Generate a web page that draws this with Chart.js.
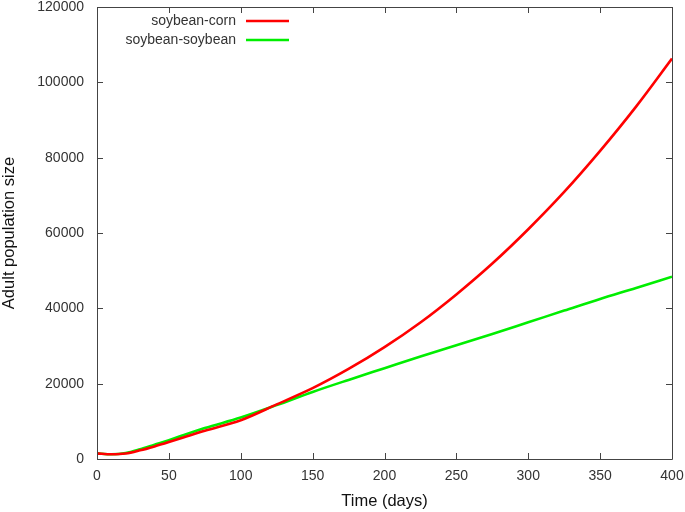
<!DOCTYPE html>
<html>
<head>
<meta charset="utf-8">
<script src="https://cdn.jsdelivr.net/npm/chart.js@4"></script>
<style>
  html, body { margin: 0; padding: 0; background: #fff; }
  #wrap { width: 685px; height: 512px; }
</style>
</head>
<body>
<div id="wrap"><canvas id="c" width="685" height="512"></canvas></div>
<script>
const days = [0, 10, 20, 30, 40, 50, 60, 75, 100, 125, 150, 175, 200, 225, 250, 275, 300, 325, 350, 375, 400];
const soybeanCorn = [1500, 1250, 1450, 2300, 3350, 4500, 5700, 7500, 10300, 14500, 18800, 23900, 29700, 36250, 43700, 51900, 61000, 70900, 81800, 93550, 106300];
const soybeanSoybean = [1500, 1250, 1600, 2600, 3800, 5000, 6300, 8200, 11000, 14300, 17800, 21000, 24100, 27200, 30200, 33200, 36300, 39400, 42500, 45400, 48400];
const seriesNames = ["soybean-corn", "soybean-soybean"];
const xTitle = "Time (days)";
const yTitle = "Adult population size";

const toPoints = (ys) => days.map((d, i) => ({ x: d, y: ys[i] }));
const FONT = '"Liberation Sans", Arial, sans-serif';

const frame = {
  id: 'frame',
  afterDraw(chart) {
    const { ctx, chartArea: a, scales: { x, y } } = chart;
    ctx.save();
    ctx.strokeStyle = '#444';
    ctx.lineWidth = 1;
    ctx.beginPath();
    ctx.rect(Math.round(a.left) + 0.5, Math.round(a.top) + 0.5, Math.round(a.right - a.left), Math.round(a.bottom - a.top));
    ctx.stroke();
    const L = 6;
    ctx.beginPath();
    x.ticks.forEach(t => {
      const px = Math.round(x.getPixelForValue(t.value)) + 0.5;
      ctx.moveTo(px, a.bottom); ctx.lineTo(px, a.bottom - L);
      ctx.moveTo(px, a.top); ctx.lineTo(px, a.top + L);
    });
    y.ticks.forEach(t => {
      const py = Math.round(y.getPixelForValue(t.value)) + 0.5;
      ctx.moveTo(a.left, py); ctx.lineTo(a.left + L, py);
      ctx.moveTo(a.right, py); ctx.lineTo(a.right - L, py);
    });
    ctx.stroke();
    // legend (gnuplot style: right-aligned text, line sample on the right)
    ctx.font = '14px ' + FONT;
    ctx.textAlign = 'right';
    ctx.textBaseline = 'middle';
    chart.data.datasets.forEach((ds, i) => {
      const yy = 21 + i * 19;
      ctx.fillStyle = '#333';
      ctx.fillText(ds.label, 236, yy);
      ctx.strokeStyle = ds.borderColor;
      ctx.lineWidth = 2.5;
      ctx.beginPath();
      ctx.moveTo(246, yy); ctx.lineTo(289, yy);
      ctx.stroke();
    });
    ctx.restore();
  }
};

new Chart(document.getElementById('c'), {
  type: 'line',
  data: {
    datasets: [
      { label: seriesNames[0], data: toPoints(soybeanCorn), borderColor: '#ff0000', borderWidth: 2.6, pointRadius: 0, cubicInterpolationMode: 'monotone', fill: false },
      { label: seriesNames[1], data: toPoints(soybeanSoybean), borderColor: '#00ee00', borderWidth: 2.6, pointRadius: 0, cubicInterpolationMode: 'monotone', fill: false }
    ]
  },
  options: {
    responsive: false,
    animation: false,
    layout: { padding: { top: 7, right: 13, left: 0, bottom: 0 } },
    plugins: { legend: { display: false }, tooltip: { enabled: false } },
    scales: {
      x: {
        type: 'linear', min: 0, max: 400,
        grid: { display: false, drawTicks: false },
        border: { display: false },
        ticks: { stepSize: 50, padding: 9, color: '#333', font: { size: 14, family: FONT }, callback: v => String(v) },
        title: { display: true, text: xTitle, color: '#111', padding: { top: 0, bottom: 1 }, font: { size: 16.5, family: FONT } },
        afterFit(s) { s.height = 53; s.paddingLeft = 0; s.paddingRight = 0; }
      },
      y: {
        type: 'linear', min: 0, max: 120000,
        grid: { display: false, drawTicks: false },
        border: { display: false },
        ticks: { stepSize: 20000, padding: 13, color: '#333', font: { size: 14, family: FONT }, callback: v => String(v) },
        title: { display: true, text: yTitle, color: '#111', padding: { top: 0, bottom: 0 }, font: { size: 16.5, family: FONT } },
        afterFit(s) { s.width = 97; s.paddingTop = 0; s.paddingBottom = 0; }
      }
    }
  },
  plugins: [frame]
});
</script>
</body>
</html>
